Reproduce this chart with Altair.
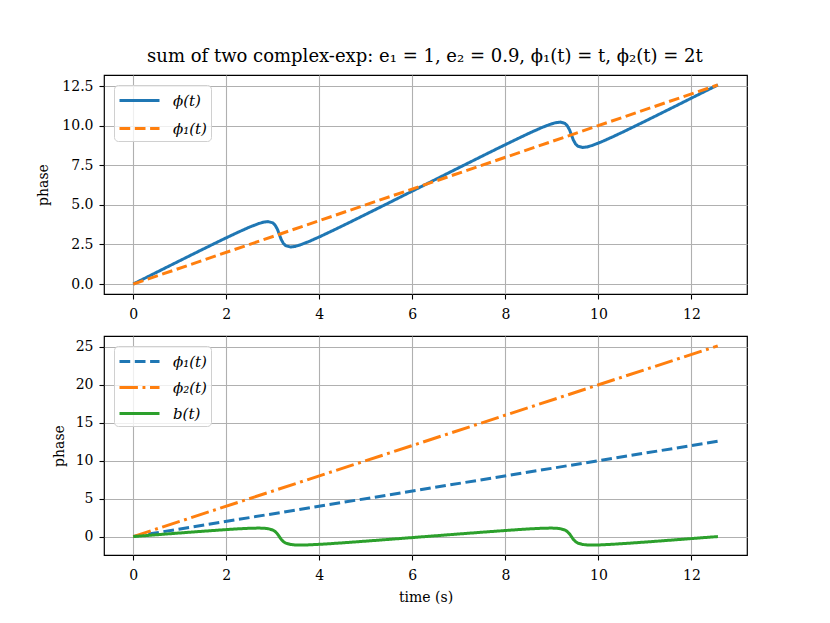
import altair as alt
import pandas as pd

# time samples (s)
t_vals = [0.0, 0.25, 0.5, 0.75, 1.0, 1.25, 1.5, 1.75, 2.0, 2.25, 2.5, 2.7, 2.8, 2.9, 3.0, 3.05, 3.1, 3.14,
          3.18, 3.23, 3.28, 3.38, 3.48, 3.58, 3.78, 4.03, 4.28, 4.53, 4.78, 5.03, 5.28, 5.53, 5.78, 6.03, 6.28,
          6.53, 6.78, 7.03, 7.28, 7.53, 7.78, 8.03, 8.28, 8.53, 8.78, 8.98, 9.08, 9.18, 9.28, 9.33, 9.38, 9.42,
          9.46, 9.51, 9.56, 9.66, 9.76, 9.86, 10.06, 10.31, 10.56, 10.81, 11.06, 11.31, 11.56, 11.81, 12.06,
          12.31, 12.57]

# b(t)
b_vals = [0.0, 0.118, 0.237, 0.355, 0.471, 0.587, 0.701, 0.812, 0.918, 1.015, 1.093, 1.119, 1.104, 1.041,
          0.862, 0.671, 0.356, 0.0, -0.356, -0.671, -0.862, -1.041, -1.104, -1.119, -1.093, -1.015, -0.918,
          -0.812, -0.701, -0.587, -0.471, -0.355, -0.237, -0.118, 0.0,
          0.118, 0.237, 0.355, 0.471, 0.587, 0.701, 0.812, 0.918, 1.015, 1.093, 1.119, 1.104, 1.041,
          0.862, 0.671, 0.356, 0.0, -0.356, -0.671, -0.862, -1.041, -1.104, -1.119, -1.093, -1.015, -0.918,
          -0.812, -0.701, -0.587, -0.471, -0.355, -0.237, -0.118, 0.0]

# phi(t)
phi_vals = [0.0, 0.368, 0.737, 1.105, 1.471, 1.837, 2.201, 2.562, 2.918, 3.265, 3.593, 3.819, 3.904, 3.941,
            3.862, 3.721, 3.456, 3.14, 2.824, 2.559, 2.418, 2.339, 2.376, 2.461, 2.687, 3.015, 3.362, 3.718,
            4.079, 4.443, 4.809, 5.175, 5.543, 5.912, 6.28,
            6.648, 7.017, 7.385, 7.751, 8.117, 8.481, 8.842, 9.198, 9.545, 9.873, 10.099, 10.184, 10.221,
            10.142, 10.001, 9.736, 9.42, 9.104, 8.839, 8.698, 8.619, 8.656, 8.741, 8.967, 9.295, 9.642, 9.998,
            10.359, 10.723, 11.089, 11.455, 11.823, 12.192, 12.566]

# straight reference lines
t_line = [0.0, 12.566]
phi1_line = [0.0, 12.566]
phi2_line = [0.0, 25.133]

x_ticks = [0, 2, 4, 6, 8, 10, 12]
y_ticks_top = [0.0, 2.5, 5.0, 7.5, 10.0, 12.5]
y_ticks_bot = [0, 5, 10, 15, 20, 25]

top_names = ["ϕ(t)", "ϕ₁(t)"]
bot_names = ["ϕ₁(t)", "ϕ₂(t)", "b(t)"]

FONT = "DejaVu Serif"
BLUE, ORANGE, GREEN = "#1f77b4", "#ff7f0e", "#2ca02c"
DASHED = [10.7, 4.6]
DASHDOT = [18.4, 4.6, 2.9, 4.6]

top_df = pd.concat([
    pd.DataFrame({"t": t_vals, "v": phi_vals, "s": top_names[0], "o": 0}),
    pd.DataFrame({"t": t_line, "v": phi1_line, "s": top_names[1], "o": 1}),
])
bot_df = pd.concat([
    pd.DataFrame({"t": t_line, "v": phi1_line, "s": bot_names[0], "o": 0}),
    pd.DataFrame({"t": t_line, "v": phi2_line, "s": bot_names[1], "o": 1}),
    pd.DataFrame({"t": t_vals, "v": b_vals, "s": bot_names[2], "o": 2}),
])


def legend(rowpad):
    return alt.Legend(
        orient="top-left", title=None, symbolType="M-2,0H2", symbolSize=400,
        symbolStrokeWidth=3, symbolOffset=10, labelOffset=22,
        labelFont=FONT, labelFontSize=15, labelFontStyle="italic",
        labelColor="black", fillColor="rgba(255,255,255,0.8)", strokeColor="#d0d0d0", cornerRadius=4,
        padding=4, rowPadding=rowpad, offset=10,
    )


xdom = [-0.628, 13.195]

top = alt.Chart(top_df).mark_line(strokeWidth=3, strokeCap="butt", clip=True).encode(
    x=alt.X("t:Q", scale=alt.Scale(domain=xdom, nice=False, zero=False),
            axis=alt.Axis(values=x_ticks, title=None, format="d", labelPadding=8)),
    y=alt.Y("v:Q", scale=alt.Scale(domain=[-0.628, 13.195], nice=False, zero=False),
            axis=alt.Axis(values=y_ticks_top, format=".1f", title="phase", titlePadding=11, labelPadding=6)),
    color=alt.Color("s:N", scale=alt.Scale(domain=top_names, range=[BLUE, ORANGE]), legend=legend(8)),
    strokeDash=alt.StrokeDash("s:N", scale=alt.Scale(domain=top_names, range=[[1, 0], DASHED]), legend=legend(8)),
    order="o:Q",
).properties(width=643, height=219)

bot = alt.Chart(bot_df).mark_line(strokeWidth=3, strokeCap="butt", clip=True).encode(
    x=alt.X("t:Q", scale=alt.Scale(domain=xdom, nice=False, zero=False),
            axis=alt.Axis(values=x_ticks, title="time (s)", format="d", labelPadding=8, titlePadding=8)),
    y=alt.Y("v:Q", scale=alt.Scale(domain=[-2.43, 26.44], nice=False, zero=False),
            axis=alt.Axis(values=y_ticks_bot, format="d", title="phase", titlePadding=9, labelPadding=6)),
    color=alt.Color("s:N", scale=alt.Scale(domain=bot_names, range=[BLUE, ORANGE, GREEN]), legend=legend(6)),
    strokeDash=alt.StrokeDash("s:N", scale=alt.Scale(domain=bot_names, range=[DASHED, DASHDOT, [1, 0]]), legend=legend(6)),
    order="o:Q",
).properties(width=643, height=219)

chart = alt.vconcat(top, bot, spacing=13).resolve_scale(
    color="independent", strokeDash="independent"
).properties(
    title=alt.Title("sum of two complex-exp: e₁ = 1, e₂ = 0.9, ϕ₁(t) = t, ϕ₂(t) = 2t",
                    font=FONT, fontSize=18, fontWeight="normal", color="black", offset=8,
                    anchor="middle", dx=33),
    padding={"left": 28, "top": 40, "right": 5, "bottom": 5},
    background="white",
).configure_axis(
    labelFont=FONT, labelFontSize=14, labelColor="black",
    tickColor="black", tickSize=5, tickWidth=1.1,
    gridColor="#b0b0b0", gridWidth=1.1, domain=False,
    titleFont=FONT, titleFontSize=14, titleFontWeight="normal", titleColor="black",
).configure_view(stroke="black", strokeWidth=1.2)

chart.save("out.html", embed_options={"renderer": "svg", "actions": False})
